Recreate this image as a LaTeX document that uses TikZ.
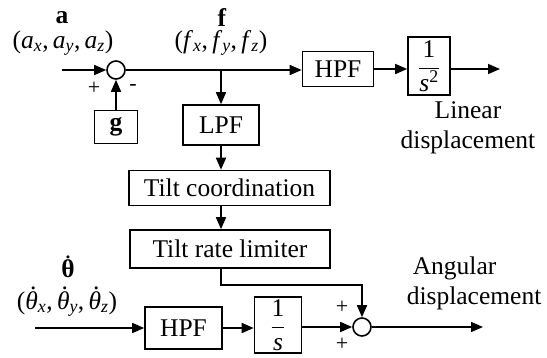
\documentclass[tikz,border=0pt]{standalone}
\usepackage{fontspec}
\setmainfont{Liberation Serif}
\usetikzlibrary{arrows.meta}
\newcommand{\dth}[2][0em]{\ooalign{\hfil\hspace{#1}\smash{\raisebox{0.76em}{.}}\hfil\cr #2\cr}}
\begin{document}
\begin{tikzpicture}[x=1pt,y=-1pt,
  line width=1.6pt,
  every node/.style={font=\fontsize{25.5}{30}\selectfont, inner sep=0pt},
  blk/.style={draw, line width=1.6pt},
  sumj/.style={draw, circle, minimum size=18pt, inner sep=0pt, line width=1.6pt},
  arr/.style={-{Triangle[length=12pt,width=10pt]}, line width=1.6pt},
  sgn/.style={font=\fontsize{22}{22}\selectfont}]
\useasboundingbox (0,0) rectangle (547,357);
% top labels
\node (la) at (62,18) {\textbf{a}};
\node (lac) at (63,43) {(\textit{a}\textsubscript{\textit{x}},\,\textit{a}\textsubscript{\textit{y}},\,\textit{a}\textsubscript{\textit{z}})};
\node (lf) at (222,18) {\textbf{f}};
\node (lfc) at (221,43) {(\textit{f}\textsubscript{\textit{x}},\,\textit{f}\textsubscript{\textit{y}},\,\textit{f}\textsubscript{\textit{z}})};
% top row
\coordinate (ina) at (62,70);
\node[sumj] (s1) at (116,70) {};
\node[blk, minimum width=43pt, minimum height=33pt] (g) at (116,127) {\textbf{g}};
\node[sgn] (p1) at (94,88) {+};
\node[sgn] (m1) at (133,87) {-};
\coordinate (br) at (221,70);
\node[blk, minimum width=71pt, minimum height=35pt] (h1) at (338,69) {HPF};
\node[blk, minimum width=42pt, minimum height=58pt] (i2) at (429,66) {${\displaystyle\frac{\hbox{1}}{\hbox{\itshape s\textsuperscript{\upshape 2}}}}$};
\coordinate (out1) at (500,69);
\node[align=center] (lin) at (468,128) {Linear\\displacement};
% middle column
\node[blk, minimum width=76pt, minimum height=40pt] (lpf) at (221,125) {LPF};
\node[blk, minimum width=201pt, minimum height=35pt] (tc) at (229.5,188) {Tilt coordination};
\node[blk, minimum width=200pt, minimum height=38pt] (tr) at (230,249) {Tilt rate limiter};
\coordinate (corner) at (221,285);
% bottom row
\node (lt) at (68,278) {\dth{\textbf{θ}}};
\node (ltc) at (67,304) {(\dth[0.12em]{\textit{θ}}\textsubscript{\textit{x}},\,\dth[0.12em]{\textit{θ}}\textsubscript{\textit{y}},\,\dth[0.12em]{\textit{θ}}\textsubscript{\textit{z}})};
\coordinate (inw) at (35,328);
\node[blk, minimum width=77pt, minimum height=42pt] (h2) at (183.5,328) {HPF};
\node[blk, minimum width=47pt, minimum height=56pt] (i1) at (278,325) {${\displaystyle\frac{\hbox{1}}{\hbox{\itshape s}}}$};
\node[sumj] (s2) at (362,327) {};
\coordinate (out2) at (483,327);
\node[sgn] (p2) at (342,307) {+};
\node[sgn] (p3) at (342,344) {+};
\node[anchor=west] (ang) at (412,268) {Angular};
\node[anchor=west] (disp) at (406,298) {displacement};
% connectors
\draw[arr] (ina) -- (s1);
\draw[arr] (g) -- (s1);
\draw[arr] (s1) -- (h1.west |- s1);
\draw[arr] (h1) -- (i2.west |- h1);
\draw[arr] (i2.east |- h1) -- (out1);
\draw[arr] (br) -- (lpf);
\draw[arr] (lpf) -- (lpf |- tc.north);
\draw[arr] (tc.south -| lpf) -- (tr.north -| lpf);
\draw[arr] (tr.south -| corner) -- (corner) -| (s2);
\draw[arr] (inw) -- (h2);
\draw[arr] (h2) -- (i1.west |- h2);
\draw[arr] (i1.east |- s2) -- (s2);
\draw[arr] (s2) -- (out2);
\end{tikzpicture}
\end{document}
